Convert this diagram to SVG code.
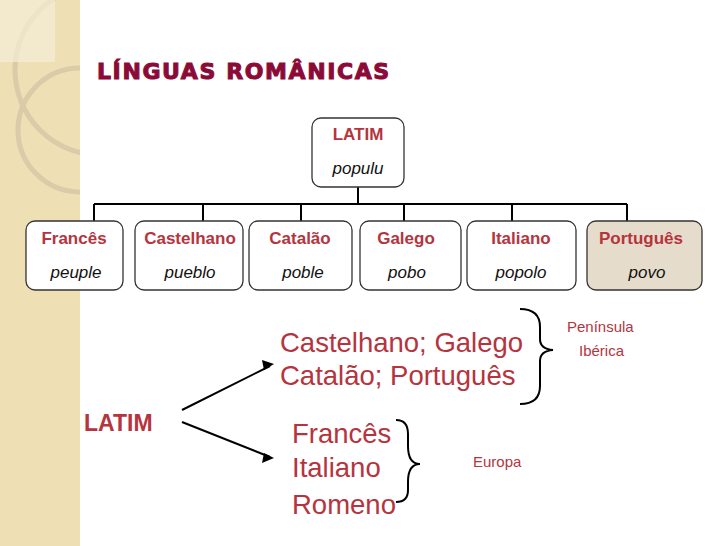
<svg xmlns="http://www.w3.org/2000/svg" width="728" height="546" viewBox="0 0 728 546">
<defs><clipPath id="band"><rect x="0" y="0" width="80" height="546"/></clipPath></defs>
<style>
.box{fill:#fff;stroke:#333;stroke-width:1.3}
.n{font-family:"Liberation Sans",Arial,sans-serif;font-weight:bold;fill:#b5343e;font-size:17px;text-anchor:middle}
.w{font-family:"Liberation Sans",Arial,sans-serif;font-style:italic;fill:#111;font-size:17px;text-anchor:middle}
.big{font-family:"Liberation Sans",Arial,sans-serif;fill:#b5343e;font-size:27.5px}
.sm{font-family:"Liberation Sans",Arial,sans-serif;fill:#b5343e;font-size:15px}
.ln{stroke:#000;stroke-width:2;fill:none}
</style>
<rect width="728" height="546" fill="#fff"/>
<rect x="0" y="0" width="80" height="546" fill="#efdfb5"/>
<g clip-path="url(#band)">
<g fill="none" stroke="#d8c9a8" stroke-width="5" opacity="0.9">
<circle cx="100" cy="70" r="85"/>
<circle cx="80" cy="130" r="62"/>
</g>
<rect x="0" y="0" width="55" height="62" fill="#f5ecd5" opacity="0.7"/>
</g>
<text x="97" y="79" font-family="'DejaVu Sans',sans-serif" font-weight="900" font-size="22" letter-spacing="1.6" fill="#8b0a37" stroke="#8b0a37" stroke-width="1">LÍNGUAS ROMÂNICAS</text>
<g id="connectors">
<path class="ln" d="M358 187V204M94 204H627M94 204V221M203 204V221M301 204V221M404 204V221M512 204V221M627 204V221"/>
<path class="ln" stroke-width="1.3" d="M182 410L270 366M182 422L270 457"/>
<path d="M262 360l12 4-10 6z M262 463l12-5-10-5z" fill="#000"/>
<path class="ln" stroke-width="1.3" d="M520 309q20 0 20 18v12q0 10 13 11q-13 1-13 11v25q0 18-20 18"/>
<path class="ln" stroke-width="1.3" d="M396 420q12 0 12 14v12q0 18 12 18q-12 0-12 18v8q0 12-12 12"/>
</g>
<g id="latim"><rect class="box" x="312" y="118" width="92" height="69" rx="9"/><text class="n" x="358" y="140" font-size="16">LATIM</text><text class="w" x="358" y="174" font-size="15">populu</text></g>
<g id="frances"><rect class="box" x="26" y="221" width="97" height="69" rx="9"/><text class="n" x="74" y="244">Francês</text><text class="w" x="76" y="278">peuple</text></g>
<g id="castelhano"><rect class="box" x="135" y="221" width="108" height="69" rx="9"/><text class="n" x="190" y="244" font-size="14.5">Castelhano</text><text class="w" x="190" y="278">pueblo</text></g>
<g id="catalao"><rect class="box" x="249" y="221" width="103" height="69" rx="9"/><text class="n" x="300" y="244">Catalão</text><text class="w" x="303" y="278">poble</text></g>
<g id="galego"><rect class="box" x="360" y="221" width="101" height="69" rx="9"/><text class="n" x="406" y="244">Galego</text><text class="w" x="407" y="278">pobo</text></g>
<g id="italiano"><rect class="box" x="467" y="221" width="109" height="69" rx="9"/><text class="n" x="521" y="244">Italiano</text><text class="w" x="521" y="278">popolo</text></g>
<g id="portugues"><rect class="box" x="587" y="221" width="115" height="69" rx="9" style="fill:#e6dccb"/><text class="n" x="641" y="244" font-size="15">Português</text><text class="w" x="647" y="278">povo</text></g>
<text x="84" y="431" font-family="'Liberation Sans',Arial,sans-serif" font-weight="bold" font-size="23" fill="#b5343e">LATIM</text>
<text class="big" x="280" y="352">Castelhano; Galego</text>
<text class="big" x="280" y="385">Catalão; Português</text>
<text class="big" x="292" y="443">Francês</text>
<text class="big" x="292" y="477">Italiano</text>
<text class="big" x="292" y="514">Romeno</text>
<text class="sm" x="567" y="332">Península</text>
<text class="sm" x="579" y="356">Ibérica</text>
<text class="sm" x="473" y="467">Europa</text>
</svg>
